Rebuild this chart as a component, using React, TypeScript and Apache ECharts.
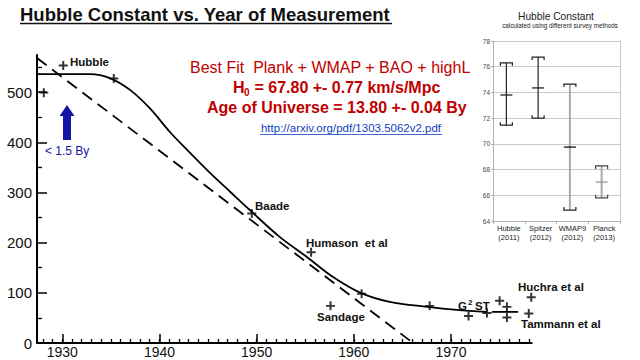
import React, { useEffect, useRef } from 'react';
import * as echarts from 'echarts';

// Main chart: fitted curve (solid), straight extrapolation (dashed), measurements (+)
const curveYears = [1927.4, 1932.9, 1934.9, 1937.0, 1939.0, 1941.1, 1943.2, 1945.2, 1947.3, 1949.3, 1952.4, 1955.2, 1957.9, 1960.7, 1963.7, 1967.6, 1970.6, 1973.7];
const curveValues = [536, 536, 528, 504, 468, 420, 378, 339, 301, 265, 211, 171, 131, 100, 82, 72, 66, 62];
const tailYears = [1974.2, 1976.9];
const tailValues = [62, 62];
const dashYears = [1927.4, 1966.1];
const dashValues = [568, 0];
const pointYears = [1928.1, 1930.1, 1935.3, 1949.5, 1955.6, 1957.6, 1960.8, 1967.8, 1971.8, 1973.7, 1975.0, 1975.75, 1975.75, 1978.0, 1978.25];
const pointValues = [499, 553, 527, 258, 181, 74, 98, 74, 54, 60, 84, 72, 51, 59, 91];

const decadeTicks = [1930, 1940, 1950, 1960, 1970];
const yearTicks = [1928, 1929, 1930, 1931, 1932, 1933, 1934, 1935, 1936, 1937, 1938, 1939, 1940, 1941, 1942, 1943, 1944, 1945, 1946, 1947, 1948, 1949, 1950, 1951, 1952, 1953, 1954, 1955, 1956, 1957, 1958, 1959, 1960, 1961, 1962, 1963, 1964, 1965, 1966, 1967, 1968, 1969, 1970, 1971, 1972, 1973, 1974, 1975, 1976, 1977, 1978];
const yLabelTicks = [0, 100, 200, 300, 400, 500];
const yMajorTicks = [100, 200, 300, 400, 500];
const yMinorTicks = [50, 150, 250, 350, 450, 550];

// Inset chart
const insetCategories = ['Hubble\n(2011)', 'Spitzer\n(2012)', 'WMAP9\n(2012)', 'Planck\n(2013)'];
const insetLow = [71.45, 72.0, 64.85, 65.8];
const insetMid = [73.8, 74.35, 69.75, 67.03];
const insetHigh = [76.3, 76.75, 74.65, 68.28];

const stemColors = ['#222', '#222', '#aaa', '#aaa'];
const capColors = ['#222', '#222', '#222', '#444'];
const midColors = ['#222', '#222', '#111', '#999'];

const FONT = "'Liberation Sans', Arial, sans-serif";
const RED = '#c00000';
const BLUE = '#1515a5';
const LINK = '#1040c0';
const PLUS = 'path://M3.9,0 H6.1 V3.9 H10 V6.1 H6.1 V10 H3.9 V6.1 H0 V3.9 H3.9 Z';

export default function App() {
  const ref = useRef<HTMLDivElement>(null);
  useEffect(() => {
    if (!ref.current) return;
    const chart = echarts.init(ref.current, null, { renderer: 'svg' });
    const label = (text: string, x: number, y: number, extra: any = {}) => ({
      type: 'text',
      x,
      y,
      z: 100,
      style: {
        text,
        fill: '#111',
        fontFamily: FONT,
        fontSize: 11.5,
        fontWeight: 'bold',
        textAlign: 'left',
        textVerticalAlign: 'middle',
        ...extra,
      },
    });
    const option: any = {
      animation: false,
      backgroundColor: '#fff',
      grid: [
        { left: 37, right: 108.3, top: 55, bottom: 17, containLabel: false, outerBoundsMode: 'none' },
        { left: 493, right: 20, top: 41, bottom: 139, containLabel: false, outerBoundsMode: 'none' },
      ],
      xAxis: [
        {
          type: 'value', gridIndex: 0, min: 1927.4, max: 1978.3,
          axisLine: { show: true, onZero: false, lineStyle: { color: '#000', width: 2 } },
          axisTick: { show: true, inside: true, length: 9, customValues: decadeTicks, lineStyle: { color: '#000', width: 1.5 } },
          axisLabel: { show: true, customValues: decadeTicks, margin: 2, color: '#111', fontFamily: FONT, fontSize: 14, lineHeight: 14, formatter: (v: number) => String(v) },
          splitLine: { show: false },
        },
        {
          type: 'value', gridIndex: 0, min: 1927.4, max: 1978.3, position: 'bottom',
          axisLine: { show: false },
          axisTick: { show: true, inside: true, length: 4, customValues: yearTicks, lineStyle: { color: '#000', width: 1.3 } },
          axisLabel: { show: false },
          splitLine: { show: false },
        },
        {
          type: 'category', gridIndex: 1, data: insetCategories, boundaryGap: true,
          axisLine: { show: true, lineStyle: { color: '#b0b0b0', width: 1 } },
          axisTick: { show: true, length: 3, interval: 0, lineStyle: { color: '#b0b0b0' } },
          axisLabel: { interval: 0, margin: 3, color: '#222', fontFamily: FONT, fontSize: 7.5, lineHeight: 9 },
          splitLine: { show: false },
        },
      ],
      yAxis: [
        {
          type: 'value', gridIndex: 0, min: 0, max: 574,
          axisLine: { show: true, onZero: false, lineStyle: { color: '#000', width: 2 } },
          axisTick: { show: true, inside: true, length: 10, customValues: yMajorTicks, lineStyle: { color: '#000', width: 1.5 } },
          axisLabel: { show: true, customValues: yLabelTicks, margin: 5, color: '#111', fontFamily: FONT, fontSize: 15 },
          splitLine: { show: false },
        },
        {
          type: 'value', gridIndex: 0, min: 0, max: 574, position: 'left',
          axisLine: { show: false },
          axisTick: { show: true, inside: true, length: 5, customValues: yMinorTicks, lineStyle: { color: '#000', width: 1.3 } },
          axisLabel: { show: false },
          splitLine: { show: false },
        },
        {
          type: 'value', gridIndex: 1, min: 64, max: 78, interval: 2,
          axisLine: { show: true, lineStyle: { color: '#b0b0b0', width: 1 } },
          axisTick: { show: true, length: 2, lineStyle: { color: '#b0b0b0' } },
          axisLabel: { margin: 3, color: '#444', fontFamily: FONT, fontSize: 6.5 },
          splitLine: { show: true, lineStyle: { color: '#c8c8c8', width: 1 } },
        },
        {
          type: 'value', gridIndex: 1, min: 64, max: 78, position: 'right',
          axisLine: { show: true, lineStyle: { color: '#c8c8c8', width: 1 } },
          axisTick: { show: false },
          axisLabel: { show: false },
          splitLine: { show: false },
        },
      ],
      series: [
        {
          type: 'line', xAxisIndex: 0, yAxisIndex: 0, smooth: 0.35, symbol: 'none',
          data: curveYears.map((y, i) => [y, curveValues[i]]),
          lineStyle: { color: '#000', width: 1.8 },
        },
        {
          type: 'line', xAxisIndex: 0, yAxisIndex: 0, symbol: 'none',
          data: tailYears.map((y, i) => [y, tailValues[i]]),
          lineStyle: { color: '#000', width: 1.8 },
        },
        {
          type: 'line', xAxisIndex: 0, yAxisIndex: 0, symbol: 'none',
          data: dashYears.map((y, i) => [y, dashValues[i]]),
          lineStyle: { color: '#000', width: 1.8, type: [12, 7] },
        },
        {
          type: 'scatter', xAxisIndex: 0, yAxisIndex: 0, symbol: PLUS, symbolSize: 9, clip: false,
          data: pointYears.map((y, i) => [y, pointValues[i]]),
          itemStyle: { color: '#000' },
          z: 5,
        },
        {
          type: 'custom', xAxisIndex: 2, yAxisIndex: 2,
          data: insetCategories.map((c, i) => [i, insetLow[i], insetMid[i], insetHigh[i]]),
          encode: { x: 0, y: [1, 2, 3] },
          renderItem: (params: any, api: any) => {
            const i = api.value(0);
            const lo = api.coord([i, api.value(1)]);
            const md = api.coord([i, api.value(2)]);
            const hi = api.coord([i, api.value(3)]);
            const x = hi[0] - 2.5;
            const w = 6;
            const t = 3;
            const idx = params.dataIndex;
            return {
              type: 'group',
              children: [
                { type: 'line', shape: { x1: x, y1: hi[1], x2: x, y2: lo[1] }, style: { stroke: stemColors[idx], lineWidth: idx > 1 ? 2 : 1.2 } },
                { type: 'polyline', shape: { points: [[x - w, hi[1] + t], [x - w, hi[1]], [x + w, hi[1]], [x + w, hi[1] + t]] }, style: { stroke: capColors[idx], lineWidth: 1.2, fill: 'none' } },
                { type: 'polyline', shape: { points: [[x - w, lo[1] - t], [x - w, lo[1]], [x + w, lo[1]], [x + w, lo[1] - t]] }, style: { stroke: capColors[idx], lineWidth: 1.2, fill: 'none' } },
                { type: 'line', shape: { x1: x - w, y1: md[1], x2: x + w, y2: md[1] }, style: { stroke: midColors[idx], lineWidth: 1.3 } },
              ],
            };
          },
        },
      ],
      graphic: [
        // Title
        { type: 'text', x: 20, y: 14, z: 100, style: { text: 'Hubble Constant vs. Year of Measurement', fill: '#111', fontFamily: FONT, fontSize: 18.5, fontWeight: 'bold', textAlign: 'left', textVerticalAlign: 'middle' } },
        { type: 'line', z: 100, shape: { x1: 20, y1: 23.5, x2: 392, y2: 23.5 }, style: { stroke: '#111', lineWidth: 1.6 } },
        // Red annotation
        { type: 'text', x: 190, y: 67, z: 100, style: { text: 'Best Fit  Plank + WMAP + BAO + highL', fill: RED, fontFamily: FONT, fontSize: 16, textAlign: 'left', textVerticalAlign: 'middle' } },
        { type: 'text', x: 233, y: 87, z: 100, style: { text: 'H', fill: RED, fontFamily: FONT, fontSize: 16, fontWeight: 'bold', textAlign: 'left', textVerticalAlign: 'middle' } },
        { type: 'text', x: 244, y: 92, z: 100, style: { text: '0', fill: RED, fontFamily: FONT, fontSize: 10, fontWeight: 'bold', textAlign: 'left', textVerticalAlign: 'middle' } },
        { type: 'text', x: 250, y: 87, z: 100, style: { text: ' = 67.80 +- 0.77 km/s/Mpc', fill: RED, fontFamily: FONT, fontSize: 16, fontWeight: 'bold', textAlign: 'left', textVerticalAlign: 'middle' } },
        { type: 'text', x: 207, y: 107, z: 100, style: { text: 'Age of Universe = 13.80 +- 0.04 By', fill: RED, fontFamily: FONT, fontSize: 16, fontWeight: 'bold', textAlign: 'left', textVerticalAlign: 'middle' } },
        // Link
        { type: 'text', x: 351, y: 128, z: 100, style: { text: 'http://arxiv.org/pdf/1303.5062v2.pdf', fill: LINK, fontFamily: FONT, fontSize: 11.5, textAlign: 'center', textVerticalAlign: 'middle' } },
        { type: 'line', z: 100, shape: { x1: 260, y1: 134.5, x2: 442, y2: 134.5 }, style: { stroke: LINK, lineWidth: 0.8 } },
        // Blue arrow
        { type: 'polygon', z: 100, shape: { points: [[67, 105], [74.5, 116], [71, 116], [71, 140], [63, 140], [63, 116], [59.5, 116]] }, style: { fill: BLUE } },
        { type: 'text', x: 45, y: 151, z: 100, style: { text: '< 1.5 By', fill: BLUE, fontFamily: FONT, fontSize: 12, textAlign: 'left', textVerticalAlign: 'middle' } },
        // Point labels
        label('Hubble', 70, 62),
        label('Baade', 255, 206),
        label('Humason  et al', 306, 243),
        label('Sandage', 317, 317),
        label('G', 458, 306),
        label('2', 468, 302, { fontSize: 8 }),
        label('ST', 475, 306),
        label('Huchra et al', 518, 287),
        label('Tammann et al', 521, 324),
        // Inset titles
        { type: 'text', x: 556, y: 16, z: 100, style: { text: 'Hubble Constant', fill: '#222', fontFamily: FONT, fontSize: 10.2, textAlign: 'center', textVerticalAlign: 'middle' } },
        { type: 'text', x: 560, y: 25, z: 100, style: { text: 'calculated using different survey methods', fill: '#222', fontFamily: FONT, fontSize: 6.3, textAlign: 'center', textVerticalAlign: 'middle' } },
      ],
    };
    chart.setOption(option);
    return () => chart.dispose();
  }, []);
  return <div ref={ref} style={{ position: 'fixed', left: 0, top: 0, width: 640, height: 360, background: '#fff' }} />;
}
